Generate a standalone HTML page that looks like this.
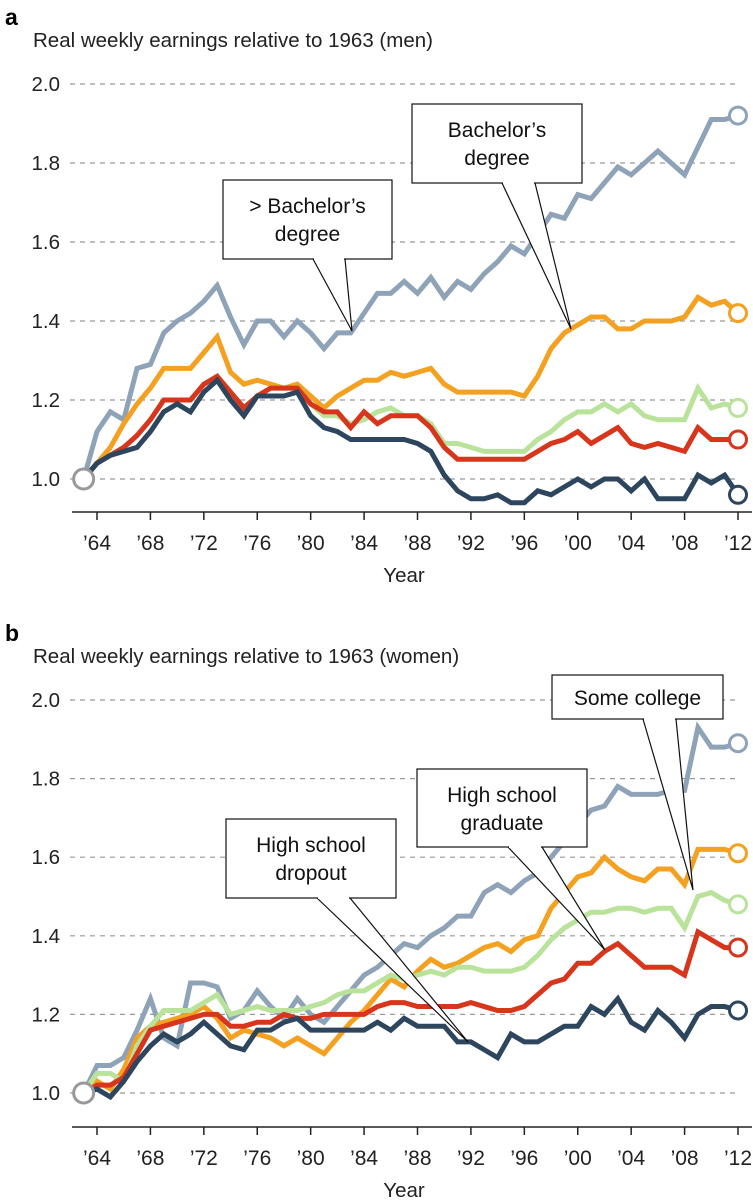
<!DOCTYPE html>
<html><head><meta charset="utf-8"><style>
body{margin:0;background:#fff;}
svg{display:block;font-family:"Liberation Sans",sans-serif;}
</style></head><body>
<svg id="s" width="753" height="1200">
<text x="5" y="25" font-size="23" font-weight="bold">a</text>
<text x="33" y="47" font-size="20.5" fill="#222">Real weekly earnings relative to 1963 (men)</text>
<text x="5" y="641" font-size="23" font-weight="bold">b</text>
<text x="33" y="663" font-size="20.5" fill="#222">Real weekly earnings relative to 1963 (women)</text>
</svg>
<script>
const years=[];for(let y=1963;y<=2012;y++)years.push(y);
const yTicks=[1.0,1.2,1.4,1.6,1.8,2.0];
const xTicks=[1964,1968,1972,1976,1980,1984,1988,1992,1996,2000,2004,2008,2012];
const xTickLabels=["’64","’68","’72","’76","’80","’84","’88","’92","’96","’00","’04","’08","’12"];
const menGrad=[1.0,1.12,1.17,1.15,1.28,1.29,1.37,1.40,1.42,1.45,1.49,1.41,1.34,1.40,1.40,1.36,1.40,1.37,1.33,1.37,1.37,1.42,1.47,1.47,1.50,1.47,1.51,1.46,1.50,1.48,1.52,1.55,1.59,1.57,1.62,1.67,1.66,1.72,1.71,1.75,1.79,1.77,1.80,1.83,1.80,1.77,1.84,1.91,1.91,1.92];
const menBA=[1.0,1.04,1.08,1.14,1.19,1.23,1.28,1.28,1.28,1.32,1.36,1.27,1.24,1.25,1.24,1.23,1.24,1.21,1.18,1.21,1.23,1.25,1.25,1.27,1.26,1.27,1.28,1.24,1.22,1.22,1.22,1.22,1.22,1.21,1.26,1.33,1.37,1.39,1.41,1.41,1.38,1.38,1.40,1.40,1.40,1.41,1.46,1.44,1.45,1.42];
const menSome=[1.0,1.04,1.06,1.08,1.11,1.15,1.20,1.20,1.20,1.24,1.26,1.22,1.18,1.21,1.23,1.23,1.23,1.19,1.16,1.16,1.14,1.15,1.17,1.18,1.16,1.16,1.14,1.09,1.09,1.08,1.07,1.07,1.07,1.07,1.10,1.12,1.15,1.17,1.17,1.19,1.17,1.19,1.16,1.15,1.15,1.15,1.23,1.18,1.19,1.18];
const menHS=[1.0,1.04,1.06,1.08,1.11,1.15,1.20,1.20,1.20,1.24,1.26,1.22,1.18,1.21,1.23,1.23,1.23,1.19,1.17,1.17,1.13,1.17,1.14,1.16,1.16,1.16,1.13,1.08,1.05,1.05,1.05,1.05,1.05,1.05,1.07,1.09,1.10,1.12,1.09,1.11,1.13,1.09,1.08,1.09,1.08,1.07,1.13,1.10,1.10,1.10];
const menDrop=[1.0,1.04,1.06,1.07,1.08,1.12,1.17,1.19,1.17,1.22,1.25,1.20,1.16,1.21,1.21,1.21,1.22,1.16,1.13,1.12,1.10,1.10,1.10,1.10,1.10,1.09,1.07,1.01,0.97,0.95,0.95,0.96,0.94,0.94,0.97,0.96,0.98,1.00,0.98,1.00,1.00,0.97,1.00,0.95,0.95,0.95,1.01,0.99,1.01,0.96];
const womGrad=[1.0,1.07,1.07,1.09,1.16,1.24,1.14,1.12,1.28,1.28,1.27,1.19,1.21,1.26,1.22,1.19,1.24,1.20,1.18,1.22,1.26,1.30,1.32,1.35,1.38,1.37,1.40,1.42,1.45,1.45,1.51,1.53,1.51,1.54,1.56,1.60,1.64,1.68,1.72,1.73,1.78,1.76,1.76,1.76,1.77,1.77,1.93,1.88,1.88,1.89];
const womBA=[1.0,1.03,1.01,1.06,1.14,1.17,1.18,1.19,1.20,1.22,1.19,1.14,1.16,1.15,1.14,1.12,1.14,1.12,1.10,1.14,1.18,1.21,1.25,1.29,1.27,1.31,1.34,1.32,1.33,1.35,1.37,1.38,1.36,1.39,1.40,1.47,1.51,1.55,1.56,1.60,1.57,1.55,1.54,1.57,1.57,1.53,1.62,1.62,1.62,1.61];
const womSome=[1.0,1.05,1.05,1.03,1.12,1.17,1.21,1.21,1.21,1.23,1.25,1.20,1.21,1.22,1.21,1.21,1.21,1.22,1.23,1.25,1.26,1.26,1.28,1.30,1.29,1.30,1.31,1.30,1.32,1.32,1.31,1.31,1.31,1.32,1.35,1.39,1.42,1.44,1.46,1.46,1.47,1.47,1.46,1.47,1.47,1.42,1.50,1.51,1.49,1.48];
const womHS=[1.0,1.02,1.02,1.04,1.10,1.16,1.17,1.18,1.19,1.20,1.20,1.17,1.17,1.18,1.18,1.20,1.19,1.19,1.20,1.20,1.20,1.20,1.22,1.23,1.23,1.22,1.22,1.22,1.22,1.23,1.22,1.21,1.21,1.22,1.25,1.28,1.29,1.33,1.33,1.36,1.38,1.35,1.32,1.32,1.32,1.30,1.41,1.39,1.37,1.37];
const womDrop=[1.0,1.01,0.99,1.03,1.08,1.12,1.15,1.13,1.15,1.18,1.15,1.12,1.11,1.16,1.16,1.18,1.19,1.16,1.16,1.16,1.16,1.16,1.18,1.16,1.19,1.17,1.17,1.17,1.13,1.13,1.11,1.09,1.15,1.13,1.13,1.15,1.17,1.17,1.22,1.20,1.24,1.18,1.16,1.21,1.18,1.14,1.20,1.22,1.22,1.21];
const colors=["#8fa3b8","#f4a020","#b9e39b","#d8361c","#2d465d"];
const NS="http://www.w3.org/2000/svg";
const svg=document.getElementById('s');
function mk(tag,attrs,parent){const e=document.createElementNS(NS,tag);for(const k in attrs)e.setAttribute(k,attrs[k]);(parent||svg).appendChild(e);return e;}
function xS(y){return 97+(y-1964)*(738-97)/48;}
function panel(id,y1,y2,axisY,series,callouts){
  const yS=v=>y1-(v-1)*(y1-y2);
  const g=mk('g',{});
  
  
  yTicks.forEach(t=>{
    const l=mk('line',{x1:70,x2:740,y1:yS(t),y2:yS(t),stroke:'#999','stroke-width':1.2,'stroke-dasharray':'5,5'},g);
    
    
    const tx=mk('text',{x:60,y:yS(t)+7,'font-size':20.5,'text-anchor':'end',fill:'#222'},g);
    tx.textContent=t.toFixed(1);
    
    
  });
  const ax=mk('line',{x1:72,x2:752,y1:axisY,y2:axisY,stroke:'#222','stroke-width':1.5},g);
  
  
  xTicks.forEach((t,i)=>{
    const l=mk('line',{x1:xS(t),x2:xS(t),y1:axisY,y2:axisY+8,stroke:'#222','stroke-width':1.5},g);
    
    
    const tx=mk('text',{x:xS(t),y:axisY+38,'font-size':21,'text-anchor':'middle',fill:'#222'},g);
    tx.textContent=xTickLabels[i];
    
    
  });
  const xt=mk('text',{x:404,y:axisY+70,'font-size':20.5,'text-anchor':'middle',fill:'#222'},g);
  xt.textContent='Year';
  
  
  series.forEach((s,i)=>{
    const p=mk('polyline',{points:s.map((v,j)=>xS(years[j])+','+yS(v)).join(' '),fill:'none',stroke:colors[i],'stroke-width':5,'stroke-linejoin':'miter'},g);
    
    
  });
  series.forEach((s,i)=>{
    const c=mk('circle',{cx:xS(2012),cy:yS(s[s.length-1]),r:8.5,fill:'#fff',stroke:colors[i],'stroke-width':3},g);
    
    
  });
  const c0=mk('circle',{cx:xS(1963),cy:yS(1),r:10,fill:'#fff',stroke:'#999','stroke-width':3},g);
  
  
  callouts.forEach(c=>{
    const cg=mk('g',{},g);
    
    
    mk('polygon',{points:`${c.b1},${c.y+c.h} ${c.tx},${c.ty} ${c.b2},${c.y+c.h}`,fill:'#fff',stroke:'#111','stroke-width':1.2},cg);
    mk('rect',{x:c.x,y:c.y,width:c.w,height:c.h,fill:'#fff',stroke:'#111','stroke-width':1.2},cg);
    mk('line',{x1:c.b1+1,x2:c.b2-1,y1:c.y+c.h,y2:c.y+c.h,stroke:'#fff','stroke-width':2},cg);
    c.lines.forEach((t,k)=>{
      const tx=mk('text',{x:c.x+c.w/2,y:c.y+(c.lines.length==1?30:33+k*28),'font-size':21,'text-anchor':'middle',fill:'#111'},cg);
      tx.textContent=t;
    });
  });
}
panel('panel-a-chart',479,84,512,[menGrad,menBA,menSome,menHS,menDrop],[
 {x:223,y:180,w:169,h:79,b1:313,b2:345,tx:352,ty:331,lines:['> Bachelor’s','degree']},
 {x:412,y:104,w:170,h:79,b1:502,b2:535,tx:571,ty:329,lines:['Bachelor’s','degree']}
]);
panel('panel-b-chart',1093,700,1127,[womGrad,womBA,womSome,womHS,womDrop],[
 {x:226,y:819,w:170,h:79,b1:317,b2:350,tx:468,ty:1042,lines:['High school','dropout']},
 {x:417,y:769,w:170,h:78,b1:508,b2:542,tx:605,ty:950,lines:['High school','graduate']},
 {x:552,y:675,w:171,h:44,b1:643,b2:676,tx:693,ty:890,lines:['Some college']}
]);
</script>
</body></html>
